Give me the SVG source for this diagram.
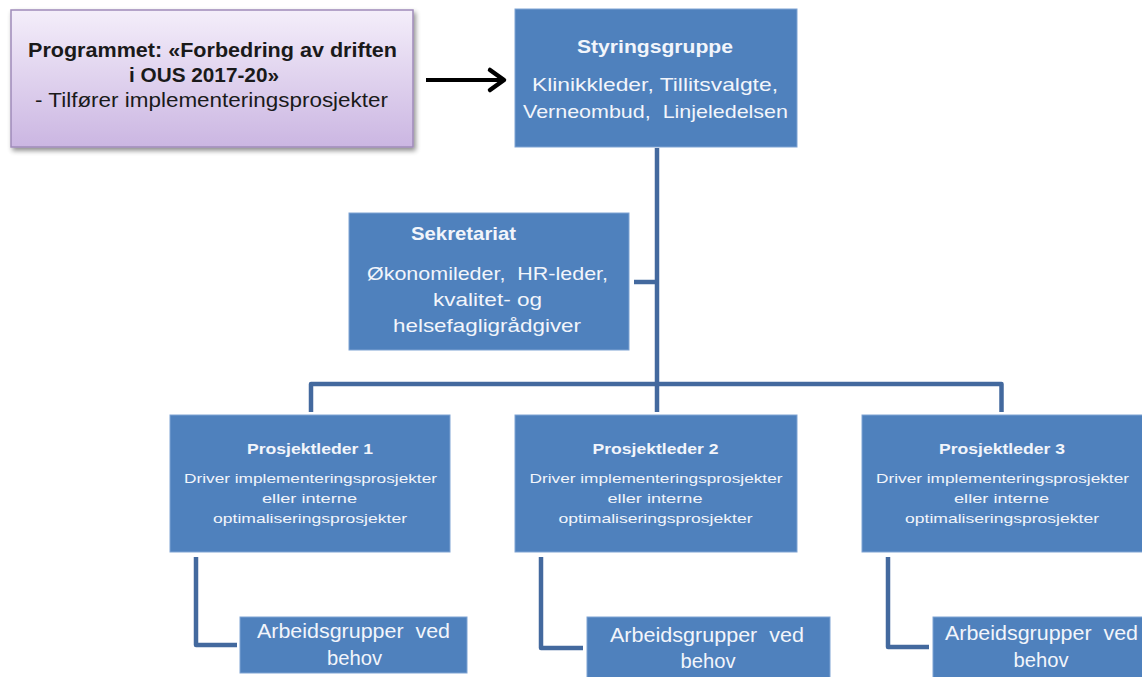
<svg xmlns="http://www.w3.org/2000/svg" width="1142" height="677" viewBox="0 0 1142 677">
<defs>
<linearGradient id="purp" x1="0" y1="0" x2="0" y2="1">
<stop offset="0" stop-color="#f4eefa"/>
<stop offset="1" stop-color="#cbb6e2"/>
</linearGradient>
<filter id="shadow" x="-10%" y="-10%" width="125%" height="135%">
<feGaussianBlur in="SourceAlpha" stdDeviation="2.5"/>
<feOffset dx="2" dy="3" result="b"/>
<feComponentTransfer><feFuncA type="linear" slope="0.45"/></feComponentTransfer>
<feMerge><feMergeNode/><feMergeNode in="SourceGraphic"/></feMerge>
</filter>
</defs>
<style>
.box{fill:#4f81bd;stroke:#7fa3d3;stroke-width:1}
.conn{fill:none;stroke:#43699e;stroke-width:4.5;stroke-linejoin:round}
.t{font-family:"Liberation Sans",Arial,sans-serif;fill:#f2f5fb;text-anchor:middle;white-space:pre}
.b{font-weight:bold}
.dk{font-family:"Liberation Sans",Arial,sans-serif;fill:#1a1a1a;text-anchor:middle}
</style>

<g id="connectors">
<path class="conn" d="M657 148 V412"/>
<path class="conn" d="M634 282 H657"/>
<path class="conn" d="M311 412 V384 H1001.5 V412"/>
<path class="conn" d="M196 557 V645 H237"/>
<path class="conn" d="M541 557 V648 H583"/>
<path class="conn" d="M888 557 V647 H929"/>
<g id="arrow">
<line x1="426" y1="80" x2="502" y2="80" stroke="#000" stroke-width="4"/>
<polyline points="490,70 504,80 490,90" fill="none" stroke="#000" stroke-width="4.5" stroke-linecap="round" stroke-linejoin="round"/>
</g>
</g>

<g id="program">
<rect x="11" y="10" width="402" height="137" fill="url(#purp)" stroke="#9f8bb9" stroke-width="1.5" filter="url(#shadow)"/>
<text class="dk b" x="212.5" y="57" font-size="20" textLength="369" lengthAdjust="spacingAndGlyphs">Programmet: «Forbedring av driften</text>
<text class="dk b" x="204" y="82" font-size="20" textLength="150" lengthAdjust="spacingAndGlyphs">i OUS 2017-20»</text>
<text class="dk" x="211.5" y="107" font-size="20" textLength="353" lengthAdjust="spacingAndGlyphs">- Tilfører implementeringsprosjekter</text>
</g>

<g id="styringsgruppe">
<rect class="box" x="515" y="9" width="282" height="138"/>
<text class="t b" x="655" y="53" font-size="19" textLength="156" lengthAdjust="spacingAndGlyphs">Styringsgruppe</text>
<text class="t" x="655" y="91" font-size="18.5" textLength="246" lengthAdjust="spacingAndGlyphs">Klinikkleder, Tillitsvalgte,</text>
<text class="t" x="655.5" y="118" font-size="18.5" textLength="265" lengthAdjust="spacingAndGlyphs">Verneombud,  Linjeledelsen</text>
</g>

<g id="sekretariat">
<rect class="box" x="349" y="213" width="280" height="137"/>
<text class="t b" x="463.5" y="240" font-size="19" textLength="105" lengthAdjust="spacingAndGlyphs">Sekretariat</text>
<text class="t" x="487.5" y="280" font-size="18.5" textLength="241" lengthAdjust="spacingAndGlyphs">Økonomileder,  HR-leder,</text>
<text class="t" x="487.5" y="306" font-size="18.5" textLength="109" lengthAdjust="spacingAndGlyphs">kvalitet- og</text>
<text class="t" x="487" y="332" font-size="18.5" textLength="188" lengthAdjust="spacingAndGlyphs">helsefagligrådgiver</text>
</g>

<g id="prosjektleder1">
<rect class="box" x="170" y="415" width="280" height="137"/>
<text class="t b" x="310" y="454" font-size="15.5" textLength="126" lengthAdjust="spacingAndGlyphs">Prosjektleder 1</text>
<text class="t" x="310.5" y="483" font-size="13.5" textLength="253" lengthAdjust="spacingAndGlyphs">Driver implementeringsprosjekter</text>
<text class="t" x="309.5" y="503" font-size="13.5" textLength="95" lengthAdjust="spacingAndGlyphs">eller interne</text>
<text class="t" x="310" y="523" font-size="13.5" textLength="194" lengthAdjust="spacingAndGlyphs">optimaliseringsprosjekter</text>
</g>

<g id="prosjektleder2">
<rect class="box" x="515" y="415" width="282" height="137"/>
<text class="t b" x="655.5" y="454" font-size="15.5" textLength="126" lengthAdjust="spacingAndGlyphs">Prosjektleder 2</text>
<text class="t" x="656" y="483" font-size="13.5" textLength="253" lengthAdjust="spacingAndGlyphs">Driver implementeringsprosjekter</text>
<text class="t" x="655" y="503" font-size="13.5" textLength="95" lengthAdjust="spacingAndGlyphs">eller interne</text>
<text class="t" x="655.5" y="523" font-size="13.5" textLength="194" lengthAdjust="spacingAndGlyphs">optimaliseringsprosjekter</text>
</g>

<g id="prosjektleder3">
<rect class="box" x="862" y="415" width="282" height="137"/>
<text class="t b" x="1002" y="454" font-size="15.5" textLength="126" lengthAdjust="spacingAndGlyphs">Prosjektleder 3</text>
<text class="t" x="1002.5" y="483" font-size="13.5" textLength="253" lengthAdjust="spacingAndGlyphs">Driver implementeringsprosjekter</text>
<text class="t" x="1001.5" y="503" font-size="13.5" textLength="95" lengthAdjust="spacingAndGlyphs">eller interne</text>
<text class="t" x="1002" y="523" font-size="13.5" textLength="194" lengthAdjust="spacingAndGlyphs">optimaliseringsprosjekter</text>
</g>

<g id="arbeid1">
<rect class="box" x="240" y="617" width="227" height="56"/>
<text class="t" x="353.5" y="638" font-size="21" textLength="193" lengthAdjust="spacingAndGlyphs">Arbeidsgrupper  ved</text>
<text class="t" x="354.5" y="665" font-size="21" textLength="55" lengthAdjust="spacingAndGlyphs">behov</text>
</g>

<g id="arbeid2">
<rect class="box" x="587" y="617" width="243" height="62"/>
<text class="t" x="707" y="642" font-size="21" textLength="194" lengthAdjust="spacingAndGlyphs">Arbeidsgrupper  ved</text>
<text class="t" x="708" y="668" font-size="21" textLength="55" lengthAdjust="spacingAndGlyphs">behov</text>
</g>

<g id="arbeid3">
<rect class="box" x="933" y="617" width="212" height="62"/>
<text class="t" x="1041.5" y="640" font-size="21" textLength="193" lengthAdjust="spacingAndGlyphs">Arbeidsgrupper  ved</text>
<text class="t" x="1041" y="667" font-size="21" textLength="55" lengthAdjust="spacingAndGlyphs">behov</text>
</g>
</svg>
